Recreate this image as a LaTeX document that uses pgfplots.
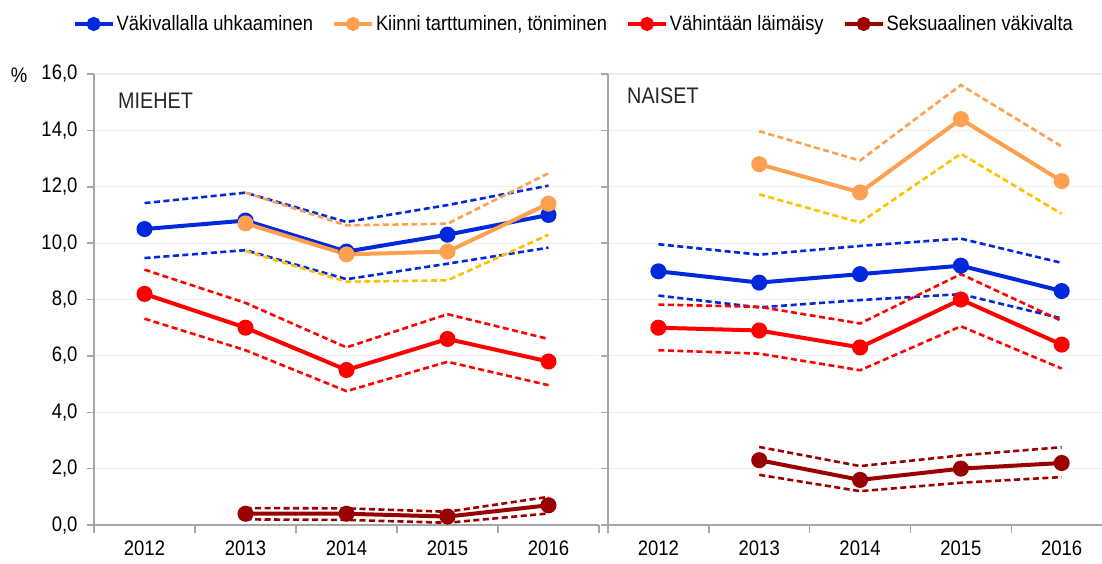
\documentclass[border=0pt]{standalone}
\usepackage{pgfplots}
\pgfplotsset{compat=1.18}
\usepackage{fontspec}
\setmainfont{Liberation Sans}[FakeStretch=0.88]
\definecolor{cblue}{RGB}{0,40,220}
\definecolor{corange}{RGB}{255,160,80}
\definecolor{cgold}{RGB}{255,192,0}
\definecolor{cred}{RGB}{255,0,0}
\definecolor{cdred}{RGB}{153,0,0}
\definecolor{axgray}{RGB}{166,166,166}
\definecolor{gridgray}{RGB}{238,238,238}
\newcommand{\tfont}{\fontsize{21}{25}\selectfont}
\newcommand{\lfont}{\fontsize{20.8}{25}\selectfont}
\newcommand{\hfont}{\fontsize{22.5}{27}\selectfont}
\pgfplotsset{
  panel/.style={
    scale only axis, height=451pt, ymin=0, ymax=16, xmin=0,
    axis x line*=bottom, axis y line*=left,
    axis line style={axgray, line width=1.8pt},
    ytick={0,2,...,16}, ymajorgrids, grid style={gridgray, line width=1.2pt},
    tick align=outside, major tick length=7pt, minor tick length=8pt,
    tick style={axgray, line width=1.5pt},
    xtick={0.5,1.5,2.5,3.5,4.5}, xticklabels={2012,2013,2014,2015,2016},
    minor xtick={0,1,2,3,4,5},
    every major x tick/.append style={draw=none},
    tick label style={font=\tfont, black},
    xticklabel style={yshift=-5pt},
    yticklabel style={xshift=-6pt, /pgf/number format/.cd, fixed, fixed zerofill, precision=1, use comma, assume math mode=true},
    clip=false,
  },
  ci/.style={line width=2.6pt, dash pattern=on 6pt off 3.5pt, no markers, forget plot},
  main/.style={line width=4pt, mark=*, mark size=6pt, mark options={solid}},
}
\begin{document}
\begin{tikzpicture}
\useasboundingbox (0,0) rectangle (1102pt,-563pt);
% ---------------- MIEHET ----------------
\begin{axis}[panel, at={(94pt,-525pt)}, anchor=south west, width=505pt, xmax=5,
  legend style={at={(0.95,1.111)}, anchor=center, draw=none, fill=none, font=\lfont,
    legend columns=4, /tikz/every even column/.append style={column sep=17pt}},
  legend cell align=left,
  legend image code/.code={\draw[#1, mark repeat=2, mark phase=2, mark size=5pt] plot coordinates {(0pt,0pt)(19pt,0pt)(38pt,0pt)};},
]
% confidence intervals
\addplot[ci, cblue] coordinates {(0.5,11.42)(1.5,11.79)(2.5,10.75)(3.5,11.35)(4.5,12.04)};
\addplot[ci, cblue] coordinates {(0.5,9.47)(1.5,9.75)(2.5,8.72)(3.5,9.27)(4.5,9.84)};
\addplot[ci, corange] coordinates {(1.5,11.79)(2.5,10.63)(3.5,10.69)(4.5,12.48)};
\addplot[ci, cgold] coordinates {(1.5,9.72)(2.5,8.63)(3.5,8.68)(4.5,10.3)};
\addplot[ci, cred] coordinates {(0.5,9.06)(1.5,7.88)(2.5,6.30)(3.5,7.48)(4.5,6.6)};
\addplot[ci, cred] coordinates {(0.5,7.32)(1.5,6.2)(2.5,4.75)(3.5,5.79)(4.5,4.96)};
\addplot[ci, cdred] coordinates {(1.5,0.6)(2.5,0.59)(3.5,0.47)(4.5,1.0)};
\addplot[ci, cdred] coordinates {(1.5,0.2)(2.5,0.18)(3.5,0.08)(4.5,0.41)};
% estimates
\addplot[main, cblue] coordinates {(0.5,10.5)(1.5,10.8)(2.5,9.7)(3.5,10.3)(4.5,11.0)};
\addlegendentry{Väkivallalla uhkaaminen}
\addplot[main, corange] coordinates {(1.5,10.7)(2.5,9.6)(3.5,9.7)(4.5,11.4)};
\addlegendentry{Kiinni tarttuminen, töniminen}
\addplot[main, cred] coordinates {(0.5,8.2)(1.5,7.0)(2.5,5.5)(3.5,6.6)(4.5,5.8)};
\addlegendentry{Vähintään läimäisy}
\addplot[main, cdred] coordinates {(1.5,0.4)(2.5,0.4)(3.5,0.3)(4.5,0.7)};
\addlegendentry{Seksuaalinen väkivalta}
\end{axis}
% ---------------- NAISET ----------------
\begin{axis}[panel, at={(608pt,-525pt)}, anchor=south west, width=494pt, xmax=4.9,
  yticklabels={}]
\addplot[ci, cblue] coordinates {(0.5,9.96)(1.5,9.59)(2.5,9.9)(3.5,10.16)(4.5,9.3)};
\addplot[ci, cblue] coordinates {(0.5,8.14)(1.5,7.72)(2.5,7.98)(3.5,8.19)(4.5,7.33)};
\addplot[ci, corange] coordinates {(1.5,13.97)(2.5,12.93)(3.5,15.61)(4.5,13.43)};
\addplot[ci, cgold] coordinates {(1.5,11.73)(2.5,10.73)(3.5,13.17)(4.5,11.04)};
\addplot[ci, cred] coordinates {(0.5,7.82)(1.5,7.74)(2.5,7.15)(3.5,8.9)(4.5,7.24)};
\addplot[ci, cred] coordinates {(0.5,6.2)(1.5,6.08)(2.5,5.49)(3.5,7.05)(4.5,5.55)};
\addplot[ci, cdred] coordinates {(1.5,2.77)(2.5,2.09)(3.5,2.47)(4.5,2.76)};
\addplot[ci, cdred] coordinates {(1.5,1.78)(2.5,1.2)(3.5,1.5)(4.5,1.7)};
\addplot[main, cblue] coordinates {(0.5,9.0)(1.5,8.6)(2.5,8.9)(3.5,9.2)(4.5,8.3)};
\addplot[main, corange] coordinates {(1.5,12.8)(2.5,11.8)(3.5,14.4)(4.5,12.2)};
\addplot[main, cred] coordinates {(0.5,7.0)(1.5,6.9)(2.5,6.3)(3.5,8.0)(4.5,6.4)};
\addplot[main, cdred] coordinates {(1.5,2.3)(2.5,1.6)(3.5,2.0)(4.5,2.2)};
\end{axis}
\node[anchor=west, font=\hfont, text=black!85, inner sep=0pt] at (118pt,-101pt) {MIEHET};
\node[anchor=west, font=\hfont, text=black!85, inner sep=0pt] at (627pt,-96pt) {NAISET};
\node[font=\tfont, inner sep=0pt] at (19pt,-75pt) {\%};
\end{tikzpicture}
\end{document}
